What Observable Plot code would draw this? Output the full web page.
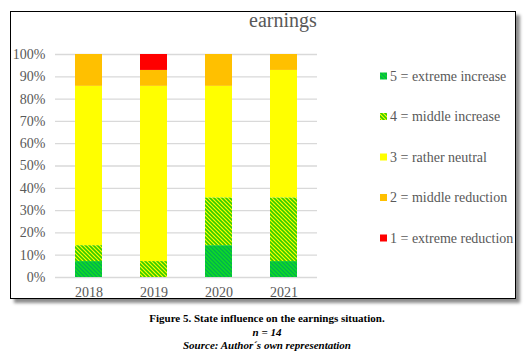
<!DOCTYPE html>
<html>
<head>
<meta charset="utf-8">
<script src="https://cdn.jsdelivr.net/npm/d3@7"></script>
<script src="https://cdn.jsdelivr.net/npm/@observablehq/plot@0.6"></script>
<style>
  html, body { margin: 0; padding: 0; background: #fff; }
  #page { position: relative; width: 530px; height: 354px; overflow: hidden; font-family: "Liberation Serif", "Times New Roman", serif; }
  #page svg, #page svg text { font-family: "Liberation Serif", "Times New Roman", serif !important; }
  #frame { position: absolute; left: 10px; top: 11px; width: 504px; height: 286px; border: 1.5px solid #000; box-shadow: 4px 4px 3px rgba(0,0,0,0.45); background: #fff; }
  #title { position: absolute; left: 200px; width: 166px; top: 9px; text-align: center; font-size: 20px; color: #595959; }
  #chart { position: absolute; left: 0; top: 0; }
  #legend { position: absolute; left: 0; top: 0; }
  #caption { position: absolute; left: 0; width: 534px; top: 312px; text-align: center; font-size: 11px; line-height: 13.6px; color: #000; font-weight: bold; }
  #caption i { font-style: italic; }
</style>
</head>
<body>
<div id="page">
  <div id="frame"></div>
  <svg width="0" height="0" style="position:absolute">
    <defs>
      <pattern id="p5" patternUnits="userSpaceOnUse" width="4" height="4">
        <rect width="4" height="4" fill="#11dd22"></rect>
        <path d="M-1,-1 L5,5 M-1,3 L1,5 M3,-1 L5,1" stroke="#00b050" stroke-width="1.4"></path>
      </pattern>
      <pattern id="p4" patternUnits="userSpaceOnUse" width="4" height="4">
        <rect width="4" height="4" fill="#ffff00"></rect>
        <path d="M-1,-1 L5,5 M-1,3 L1,5 M3,-1 L5,1" stroke="#33cc00" stroke-width="1.6"></path>
      </pattern>
    </defs>
  </svg>
  <div id="title">earnings</div>
  <div id="chart"></div>
  <svg id="legend" width="530" height="300"></svg>
  <div id="caption">Figure 5. State influence on the earnings situation.<br><i>n = 14</i><br><i>Source: Author´s own representation</i></div>
</div>
<script>
const years = ["2018", "2019", "2020", "2021"];
const categories = ["5 = extreme increase", "4 = middle increase", "3 = rather neutral", "2 = middle reduction", "1 = extreme reduction"];
const fills = ["url(#p5)", "url(#p4)", "#ffff00", "#ffc000", "#ff0000"];
const n = 14;
const c5 = [1, 0, 2, 1];
const c4 = [1, 1, 3, 4];
const c3 = [10, 11, 7, 8];
const c2 = [2, 1, 2, 1];
const c1 = [0, 1, 0, 0];
const yTicks = [0, 0.1, 0.2, 0.3, 0.4, 0.5, 0.6, 0.7, 0.8, 0.9, 1];

const series = [c5, c4, c3, c2, c1];
const data = [];
series.forEach((vals, i) => {
  vals.forEach((v, j) => data.push({year: years[j], cat: categories[i], pct: v / n}));
});

const chart = Plot.plot({
  width: 340,
  height: 300,
  marginLeft: 55,
  marginRight: 23,
  marginTop: 54,
  marginBottom: 23,
  style: {fontFamily: '"Liberation Serif", "Times New Roman", serif', fontSize: "14px", color: "#595959", background: "transparent", overflow: "visible"},
  x: {domain: years, paddingInner: 0.59, paddingOuter: 0.295, label: null},
  y: {domain: [0, 1], label: null},
  color: {domain: categories, range: fills},
  marks: [
    Plot.ruleY(yTicks, {stroke: "#d9d9d9", strokeWidth: 1.3}),
    Plot.barY(data, Plot.stackY({x: "year", y: "pct", fill: "cat"})),
    Plot.axisY({ticks: yTicks, tickFormat: d3.format(".0%"), tickSize: 0, tickPadding: 10, label: null, fill: "#595959", fontSize: 14}),
    Plot.axisX({tickSize: 0, tickPadding: 10, label: null, fill: "#595959", fontSize: 14})
  ]
});
document.getElementById("chart").appendChild(chart);

// legend
const leg = d3.select("#legend");
const rowY = [76, 116.5, 157, 197.5, 238];
categories.forEach((c, i) => {
  leg.append("rect").attr("x", 380).attr("y", rowY[i] - 3.5).attr("width", 7).attr("height", 7).attr("fill", fills[i]);
  leg.append("text").attr("x", 390).attr("y", rowY[i]).attr("dy", "0.35em")
    .attr("font-size", 14).attr("fill", "#595959").text(c);
});
</script>
</body>
</html>
